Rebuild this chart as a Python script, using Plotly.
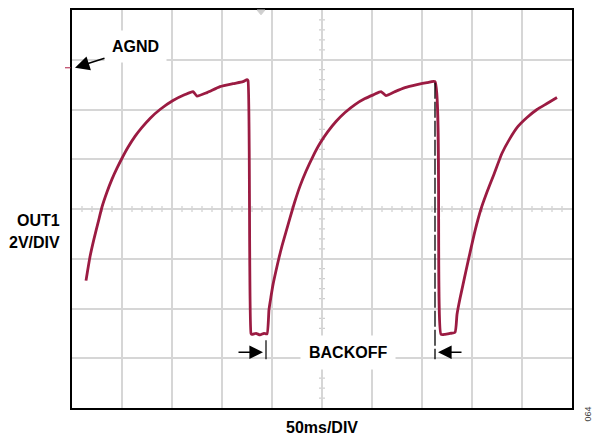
import plotly.graph_objects as go

# OUT1 waveform during hiccup / backoff, time in ms, voltage in V relative to AGND
time_ms = [14, 18, 22, 26, 30, 35, 40, 45, 50, 56, 63, 70, 78, 88, 101, 113, 121, 125, 135, 148,
           161, 171, 175,
           176, 179, 180, 184, 188, 192, 195,
           197, 199, 201, 204, 207, 210, 214, 218, 223, 228, 234, 241, 248, 256, 264, 273, 283,
           293, 302, 309, 314, 323, 333, 345, 355, 363,
           369, 373, 378, 383,
           385, 388, 391, 394, 398, 403, 409, 415, 422, 430, 438, 446, 455, 465, 475, 485]
out1_v = [-8.56, -7.60, -6.88, -6.24, -5.60, -5.00, -4.48, -4.04, -3.64, -3.20, -2.76, -2.40,
          -2.04, -1.68, -1.32, -1.08, -0.96, -1.14, -1.00, -0.76, -0.64, -0.56, -0.48,
          -0.52, -10.68, -10.72, -10.68, -10.74, -10.68, -10.70,
          -9.72, -9.20, -8.72, -8.16, -7.64, -7.16, -6.60, -6.04, -5.36, -4.76, -4.16, -3.56,
          -3.04, -2.56, -2.16, -1.80, -1.48, -1.24, -1.08, -0.96, -1.12, -0.96, -0.80, -0.68,
          -0.60, -0.56,
          -10.72, -10.72, -10.68, -10.64,
          -9.92, -9.28, -8.72, -8.16, -7.44, -6.56, -5.68, -5.00, -4.28, -3.44, -2.84, -2.36,
          -2.00, -1.68, -1.44, -1.20]

# scope graticule: 10 x 50 ms, 8 x 2 V
T_RANGE = [0, 500]
V_RANGE = [-13.68, 2.32]
V_GRID0 = 0.32
AGND_V = 0.0
BACKOFF_START_MS = 194
BACKOFF_END_MS = 363
BACKOFF_V = -11.44

RED = "#9b1b42"
GRID = "#d6d6d6"
FONT = "Liberation Sans, Arial, sans-serif"

t_mid = (T_RANGE[0] + T_RANGE[1]) / 2
v_mid = (V_RANGE[0] + V_RANGE[1]) / 2


def v_to_paper(v):
    return (v - V_RANGE[0]) / (V_RANGE[1] - V_RANGE[0])


fig = go.Figure()
fig.add_trace(go.Scatter(x=time_ms, y=out1_v, mode="lines",
                         line=dict(color=RED, width=2.8, shape="spline", smoothing=0.5),
                         hoverinfo="skip"))

shapes = []
# minor ticks along the centre graticule lines
path = ""
for t in range(10, 500, 10):
    path += f"M{t},{v_mid - 0.12} L{t},{v_mid + 0.12} "
v = V_RANGE[0] + 0.4
while v < V_RANGE[1] - 0.01:
    path += f"M{t_mid - 3},{v} L{t_mid + 3},{v} "
    v += 0.4
shapes.append(dict(type="path", path=path, xref="x", yref="y",
                   line=dict(color="#cfcfcf", width=1.2), layer="below"))
# trigger marker at top edge
shapes.append(dict(type="path", xref="x", yref="paper",
                   path="M185,1 L193,1 L189,0.988 Z",
                   fillcolor="#cfcfcf", line=dict(color="#cfcfcf", width=1)))
# AGND level marker left of the graticule
shapes.append(dict(type="line", xref="paper", yref="paper",
                   x0=-0.014, x1=-0.003, y0=v_to_paper(AGND_V), y1=v_to_paper(AGND_V),
                   line=dict(color="#c0506e", width=1.3)))
# backoff interval markers
shapes.append(dict(type="line", xref="x", yref="y",
                   x0=BACKOFF_START_MS, x1=BACKOFF_START_MS, y0=BACKOFF_V + 0.48, y1=BACKOFF_V - 0.28,
                   line=dict(color="black", width=1.2)))
shapes.append(dict(type="line", xref="x", yref="y",
                   x0=BACKOFF_END_MS, x1=BACKOFF_END_MS, y0=-0.6, y1=BACKOFF_V - 0.28,
                   line=dict(color="black", width=1.3, dash="16px,3px")))

annotations = [
    # AGND label and arrow
    dict(x=32, y=AGND_V + 0.84, xref="x", yref="y", text="<b>AGND</b>", showarrow=False,
         xanchor="left", font=dict(family=FONT, size=16, color="black"),
         bgcolor="white", borderpad=7),
    dict(x=3, y=AGND_V, xref="x", yref="y", text="", showarrow=True, ax=31, ay=-10,
         arrowhead=2, arrowsize=1.8, arrowwidth=1.6, arrowcolor="black"),
    # backoff label and arrows
    dict(x=(BACKOFF_START_MS + BACKOFF_END_MS) / 2 - 3, y=BACKOFF_V, xref="x", yref="y",
         text="<b>BACKOFF</b>", showarrow=False,
         font=dict(family=FONT, size=16, color="black"), bgcolor="white", borderpad=8),
    dict(x=BACKOFF_START_MS - 3, y=BACKOFF_V, xref="x", yref="y", text="", showarrow=True,
         ax=-26, ay=0, arrowhead=2, arrowsize=1.7, arrowwidth=1.6, arrowcolor="black"),
    dict(x=BACKOFF_END_MS + 3, y=BACKOFF_V, xref="x", yref="y", text="", showarrow=True,
         ax=25, ay=0, arrowhead=2, arrowsize=1.7, arrowwidth=1.6, arrowcolor="black"),
    # axis captions
    dict(x=-0.02, y=v_to_paper(-5.68) - 0.028, xref="paper", yref="paper",
         text="<b>OUT1</b>", showarrow=False, xanchor="right", yanchor="middle",
         font=dict(family=FONT, size=16, color="black")),
    dict(x=-0.02, y=v_to_paper(-5.68) - 0.085, xref="paper", yref="paper",
         text="<b>2V/DIV</b>", showarrow=False, xanchor="right", yanchor="middle",
         font=dict(family=FONT, size=16, color="black")),
    dict(x=0.5, y=-0.048, xref="paper", yref="paper", text="<b>50ms/DIV</b>",
         showarrow=False, yanchor="middle",
         font=dict(family=FONT, size=16, color="black")),
    dict(x=1.046, y=-0.04, xref="paper", yref="paper", text="064", textangle=-90,
         showarrow=False, font=dict(family=FONT, size=9, color="#444444")),
]

fig.update_layout(
    width=599, height=440,
    margin=dict(l=72, r=27, t=8, b=32),
    paper_bgcolor="white", plot_bgcolor="white",
    showlegend=False,
    shapes=shapes,
    annotations=annotations,
    xaxis=dict(range=T_RANGE, tick0=0, dtick=50, showticklabels=False, ticks="",
               showgrid=True, gridcolor=GRID, gridwidth=1.5, zeroline=False,
               showline=True, mirror=True, linecolor="black", linewidth=2, fixedrange=True),
    yaxis=dict(range=V_RANGE, tick0=V_GRID0, dtick=2, showticklabels=False, ticks="",
               showgrid=True, gridcolor=GRID, gridwidth=1.5, zeroline=False,
               showline=True, mirror=True, linecolor="black", linewidth=2, fixedrange=True),
)

fig.write_html("out.html", config={"displayModeBar": False})
